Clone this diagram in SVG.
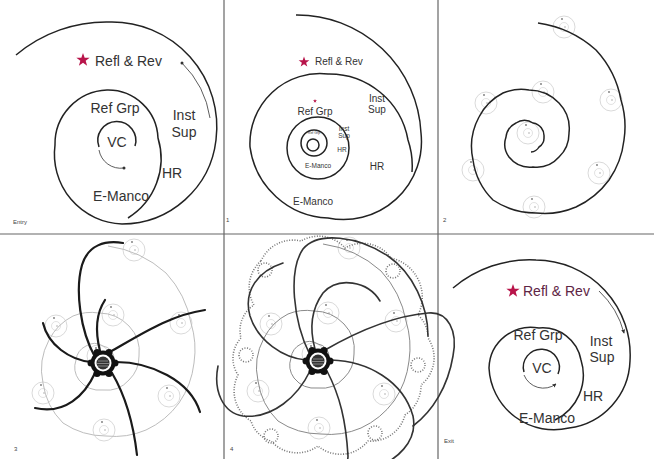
<svg xmlns="http://www.w3.org/2000/svg" xmlns:xlink="http://www.w3.org/1999/xlink" width="654" height="459" viewBox="0 0 654 459">
<style>
.ln{fill:none;stroke:#222;stroke-width:1.5}
.thin{fill:none;stroke:#333;stroke-width:0.8}
.t{font-family:"Liberation Sans",Arial,sans-serif;fill:#333}
.L{font-size:14px}
.M{font-size:10px}
.S{font-size:6.5px}
.tag{font-family:"Liberation Sans",Arial,sans-serif;font-size:6px;fill:#444}
.arm{fill:none;stroke:#1a1a1a;stroke-width:2.2;stroke-linecap:round}
.arm5{fill:none;stroke:#333;stroke-width:1.6;stroke-linecap:round}
.dot{fill:none;stroke:#777;stroke-width:1.6;stroke-dasharray:1 1.6}
.div{stroke:#666;stroke-width:1.2}
</style>
<defs>
<polygon id="star" points="0,-7 1.65,-2.27 6.66,-2.16 2.66,0.87 4.11,5.66 0,2.8 -4.11,5.66 -2.66,0.87 -6.66,-2.16 -1.65,-2.27" fill="#b8144a"/>
<path id="spiral" fill="none" d="M5,-117 A110,110 0 0 1 63,-90 A100,100 0 0 1 88,-40 A90,90 0 0 1 91,0 A88,88 0 0 1 76,40 A85,85 0 0 1 43,67 A80,80 0 0 1 3,73 A77,77 0 0 1 -40,60 A70,70 0 0 1 -60,20 A62,62 0 0 1 -54,-23 A55,55 0 0 1 -30,-47 A48,48 0 0 1 -4,-50 A42,42 0 0 1 26,-37 A37,37 0 0 1 36,-7 A33,33 0 0 1 26,17 A30,30 0 0 1 0,27 A27,27 0 0 1 -24,17 A22,22 0 0 1 -27,-3 A18,18 0 0 1 -17,-17 A15,15 0 0 1 0,-17 A13,13 0 0 1 11,-3 A11,11 0 0 1 6,7 A10,10 0 0 1 -2,12"/>
<g id="mini">
<circle r="11" fill="none" stroke="#cfcfcf" stroke-width="0.8"/>
<circle r="4.5" fill="none" stroke="#d6d6d6" stroke-width="0.7"/>
<circle cx="-2" cy="-8" r="0.9" fill="#777"/>
<circle cx="1" cy="0" r="0.7" fill="#999"/>
</g>
<g id="minis">
<use href="#mini" x="564" y="27"/>
<use href="#mini" x="611" y="100"/>
<use href="#mini" x="599" y="173"/>
<use href="#mini" x="534" y="207"/>
<use href="#mini" x="473" y="170"/>
<use href="#mini" x="486" y="103"/>
<use href="#mini" x="543" y="92"/>
<use href="#mini" x="528" y="133"/>
</g>
<g id="hub">
<circle r="12.5" fill="#111"/>
<circle cx="12" cy="0" r="3.5" fill="#111"/>
<circle cx="6" cy="10.4" r="3.5" fill="#111"/>
<circle cx="-6" cy="10.4" r="3.5" fill="#111"/>
<circle cx="-12" cy="0" r="3.5" fill="#111"/>
<circle cx="-6" cy="-10.4" r="3.5" fill="#111"/>
<circle cx="6" cy="-10.4" r="3.5" fill="#111"/>
<circle r="8.5" fill="#fff"/>
<circle r="6.5" fill="#333"/>
<path d="M-5,-2 H5 M-6,0.5 H6 M-5,3 H5" stroke="#bbb" stroke-width="0.6"/>
</g>
<marker id="ah" viewBox="0 0 6 6" refX="5" refY="3" markerWidth="5" markerHeight="5" orient="auto">
<path d="M0,0 L6,3 L0,6 z" fill="#333"/>
</marker>
</defs>
<rect width="654" height="459" fill="#fff"/>

<g id="dividers">
<line class="div" x1="224" y1="0" x2="224" y2="459"/>
<line class="div" x1="438" y1="0" x2="438" y2="459"/>
<line class="div" x1="0" y1="234" x2="654" y2="234"/>
</g>

<g id="panel-entry">
<path class="ln" d="M16,55 A140,140 0 0 1 110,22 A105,105 0 0 1 216,140 A95,95 0 0 1 122,224 A70,70 0 0 1 55,145 A54,54 0 0 1 107,90 A50,50 0 0 1 158,138 A70,70 0 0 1 128,218"/>
<path class="thin" d="M182,63 A98,98 0 0 1 210,118"/>
<circle cx="182" cy="63" r="1.5" fill="#333"/>
<path class="ln" d="M135,146 A19,19 0 1 0 99,147"/>
<path class="thin" d="M99,150 A22,22 0 0 0 124,168"/>
<circle cx="124" cy="168" r="1.5" fill="#333"/>
<use href="#star" x="83" y="60"/>
<text class="t L" x="95" y="66">Refl &amp; Rev</text>
<text class="t L" x="115" y="113" text-anchor="middle">Ref Grp</text>
<text class="t L" x="117" y="147" text-anchor="middle">VC</text>
<text class="t L" x="184" y="120" text-anchor="middle">Inst</text>
<text class="t L" x="184" y="137" text-anchor="middle">Sup</text>
<text class="t L" x="172" y="178" text-anchor="middle">HR</text>
<text class="t L" x="121" y="201" text-anchor="middle">E-Manco</text>
<text class="tag" x="13" y="224">Entry</text>
</g>

<g id="panel-1">
<path class="ln" d="M296,15 A124,124 0 0 1 421,133 A78,78 0 0 1 328,218 A82,82 0 0 1 250,147 A70,70 0 0 1 328,74 A80,80 0 0 1 408,140 A80,80 0 0 1 412,172"/>
<circle class="ln" cx="318" cy="148" r="31"/>
<circle class="ln" cx="314" cy="143" r="13" stroke-width="1"/>
<circle class="ln" cx="313" cy="145" r="6" stroke-width="0.9"/>
<use href="#star" transform="translate(304,62) scale(0.8)"/>
<use href="#star" transform="translate(315,101) scale(0.3)"/>
<text class="t M" x="315" y="65">Refl &amp; Rev</text>
<text class="t M" x="377" y="102" text-anchor="middle">Inst</text>
<text class="t M" x="377" y="113" text-anchor="middle">Sup</text>
<text class="t M" x="377" y="170" text-anchor="middle">HR</text>
<text class="t M" x="313" y="205" text-anchor="middle">E-Manco</text>
<text class="t M" x="315" y="115" text-anchor="middle">Ref Grp</text>
<text class="t S" x="344" y="131" text-anchor="middle">Inst</text>
<text class="t S" x="344" y="138" text-anchor="middle">Sup</text>
<text class="t S" x="342" y="152" text-anchor="middle">HR</text>
<text class="t S" x="318" y="168" text-anchor="middle">E-Manco</text>
<text class="t" x="314" y="134" text-anchor="middle" font-size="3.5">Ref Grp</text>
<text class="tag" x="226" y="222">1</text>
</g>

<g id="panel-2">
<use href="#minis"/>
<use href="#spiral" transform="translate(533,140)" stroke="#222" stroke-width="1.5"/>
<text class="tag" x="443" y="222">2</text>
</g>

<g id="panel-3">
<use href="#minis" transform="translate(-430,223)"/>
<use href="#spiral" transform="translate(103,363)" stroke="#bdbdbd" stroke-width="1"/>
<path class="arm" d="M95,357 C80,330 75,290 82,265 C88,245 105,240 123,243"/>
<path class="arm" d="M100,351 C96,335 95,315 105,300"/>
<path class="arm" d="M110,352 C140,335 170,315 205,310"/>
<path class="arm" d="M116,362 C150,362 190,380 200,412"/>
<path class="arm" d="M112,373 C125,395 133,420 137,455"/>
<path class="arm" d="M95,373 C85,395 65,415 35,408"/>
<path class="arm" d="M91,362 C70,360 48,345 43,323"/>
<use href="#hub" x="103" y="363"/>
<text class="tag" x="14" y="451">3</text>
</g>

<g id="panel-4">
<use href="#minis" transform="translate(-215,221)"/>
<use href="#spiral" transform="translate(318,361)" stroke="#8a8a8a" stroke-width="1"/>
<path class="dot" d="M261,261 A35,35 0 0 1 301,241 A35,35 0 0 1 345,248 A35,35 0 0 1 391,258 A40,40 0 0 1 418,315 A30,30 0 0 1 428,338 A35,35 0 0 1 421,385 A35,35 0 0 1 405,415 A35,35 0 0 1 368,441 A35,35 0 0 1 318,446 A35,35 0 0 1 271,441 A30,30 0 0 1 251,421 A35,35 0 0 1 238,375 A30,30 0 0 1 241,338 A30,30 0 0 1 254,305 A35,35 0 0 1 261,261"/>
<circle class="dot" cx="265" cy="270" r="7"/>
<circle class="dot" cx="393" cy="271" r="7"/>
<circle class="dot" cx="246" cy="355" r="7"/>
<circle class="dot" cx="418" cy="365" r="7"/>
<circle class="dot" cx="271" cy="436" r="7"/>
<circle class="dot" cx="375" cy="433" r="7"/>
<g transform="translate(318,361)">
<path class="arm5" d="M-8,-6 C-25,-40 -30,-90 -15,-112 C0,-130 40,-125 70,-105 C95,-88 110,-55 110,-25"/>
<path class="arm5" d="M-3,-12 C-8,-30 -8,-50 5,-68 C20,-85 50,-80 62,-60"/>
<path class="arm5" d="M7,-11 C40,-30 75,-45 110,-48 C130,-50 140,-30 135,-5 C130,25 115,50 95,65"/>
<path class="arm5" d="M13,-1 C50,0 85,20 95,55 C100,80 80,100 50,110"/>
<path class="arm5" d="M9,10 C22,35 28,60 30,95 C30,110 10,118 -20,112"/>
<path class="arm5" d="M-8,10 C-20,35 -45,58 -75,55 C-95,52 -105,30 -100,5"/>
<path class="arm5" d="M-12,-1 C-35,-3 -60,-20 -68,-45 C-75,-70 -60,-90 -35,-98"/>
</g>
<use href="#hub" x="318" y="361"/>
<text class="tag" x="230" y="451">4</text>
</g>

<g id="panel-exit">
<path class="ln" d="M453,288 A118,118 0 0 1 536,260 A95,95 0 0 1 630,361 A70,70 0 0 1 569,428 A65,65 0 0 1 489,368 A42,42 0 0 1 539,328 A39,39 0 0 1 581,360 A50,50 0 0 1 555,420"/>
<path class="thin" d="M599,291 A88,88 0 0 1 624,333" marker-end="url(#ah)"/>
<path class="ln" d="M558,374 A18,18 0 1 0 524,372"/>
<path class="thin" d="M524,375 A21,21 0 0 0 556,384" marker-end="url(#ah)"/>
<use href="#star" x="513" y="291"/>
<text class="t L" x="523" y="296" style="fill:#5e2544">Refl &amp; Rev</text>
<text class="t L" x="538" y="340" text-anchor="middle">Ref Grp</text>
<text class="t L" x="542" y="373" text-anchor="middle">VC</text>
<text class="t L" x="601" y="346" text-anchor="middle">Inst</text>
<text class="t L" x="602" y="362" text-anchor="middle">Sup</text>
<text class="t L" x="593" y="401" text-anchor="middle">HR</text>
<text class="t L" x="547" y="423" text-anchor="middle">E-Manco</text>
<text class="tag" x="444" y="443">Exit</text>
</g>
</svg>
